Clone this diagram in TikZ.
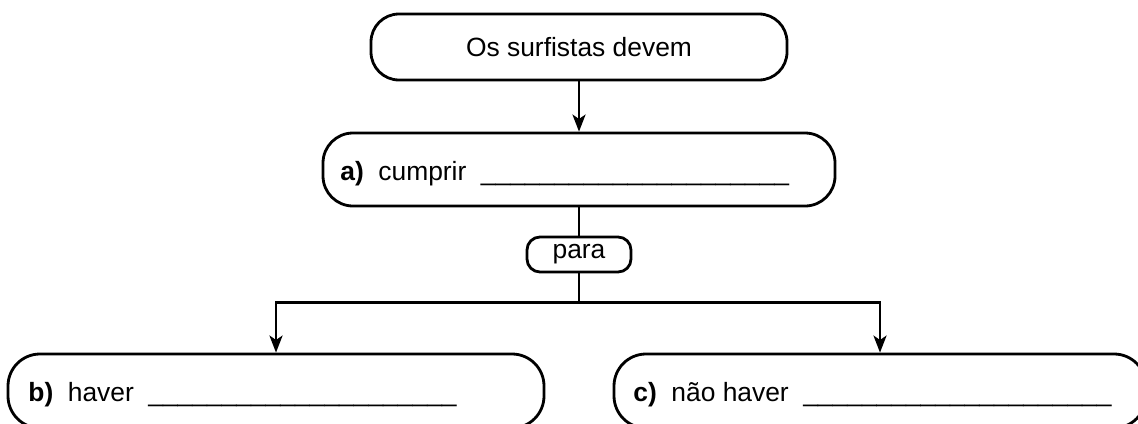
\documentclass[tikz,border=0pt]{standalone}
\usepackage{fontspec}
\setmainfont{Liberation Sans}
\usetikzlibrary{arrows.meta}
\newcommand{\blank}{\_\_\_\_\_\_\_\_\_\_\_\_\_\_\_\_\_\_\_\_\_}
\begin{document}
\begin{tikzpicture}[x=0.5pt,y=-0.5pt,line width=1.4pt,
  font=\fontsize{13.2}{16}\selectfont,
  rbox/.style={draw,inner sep=0pt,rounded corners=#1},
  lbl/.style={anchor=base west,inner sep=0pt},
  arr/.style={-{Stealth[length=8.5pt,width=6.5pt,inset=2.2pt]}}]
\path[use as bounding box] (0,0) rectangle (1138,423);
\clip (0,0) rectangle (1138,423);
\node[rbox=14pt,minimum width=208pt,minimum height=33pt] (top) at (579,47) {Os surfistas devem};
\node[rbox=15pt,minimum width=256pt,minimum height=36.5pt] (a) at (579,169.5) {};
\node[rbox=6.5pt,minimum width=52pt,minimum height=17.5pt] (para) at (579,254.5) {para};
\node[rbox=16pt,minimum width=268pt,minimum height=37pt] (b) at (276,391) {};
\node[rbox=16pt,minimum width=266pt,minimum height=37pt] (c) at (880,391) {};
\node[lbl] (ta) at (339,180) {\textbf{a)}\hspace{0.55em}cumprir\hspace{0.55em}\blank};
\node[lbl] (tb) at (27,401) {\textbf{b)}\hspace{0.55em}haver\hspace{0.55em}\blank};
\node[lbl] (tc) at (632,401) {\textbf{c)}\hspace{0.55em}não haver\hspace{0.55em}\blank};
\coordinate (j) at (579,302.5);
\draw[arr] (top) -- (a);
\draw (a) -- (para);
\draw (para) -- (j);
\draw[arr] (j) -| (b);
\draw[arr] (j) -| (c);
\end{tikzpicture}
\end{document}
